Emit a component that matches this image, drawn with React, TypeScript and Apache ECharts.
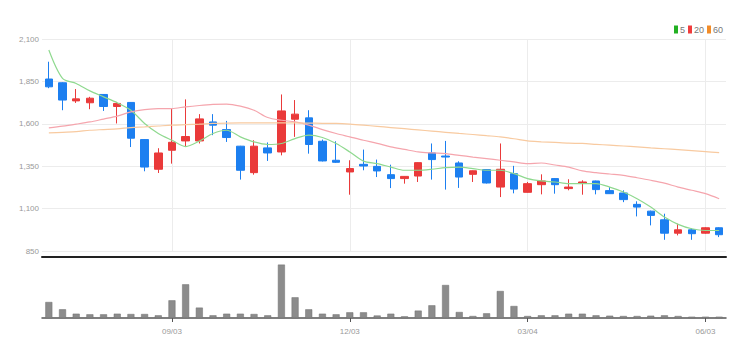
import React, { useEffect, useRef } from "react";
import * as echarts from "echarts";

const dates = [
  "07/02", "07/09", "07/16", "07/23", "07/30", "08/06", "08/13", "08/20", "08/27", "09/03",
  "09/10", "09/17", "09/24", "10/01", "10/08", "10/15", "10/22", "10/29", "11/05", "11/12",
  "11/19", "11/26", "12/03", "12/10", "12/17", "12/24", "12/31", "01/07", "01/14", "01/21",
  "01/28", "02/04", "02/11", "02/18", "02/25", "03/04", "03/11", "03/18", "03/25", "04/01",
  "04/08", "04/15", "04/22", "04/29", "05/06", "05/13", "05/20", "05/27", "06/03", "06/10",
];

const opens = [1864, 1842, 1735, 1724, 1773, 1702, 1726, 1507, 1332, 1444, 1499, 1499, 1611, 1566, 1468, 1312, 1458, 1434, 1627, 1635, 1497, 1385, 1316, 1361, 1349, 1300, 1277, 1292, 1428, 1410, 1369, 1302, 1330, 1227, 1306, 1196, 1241, 1277, 1218, 1249, 1263, 1206, 1192, 1125, 1085, 1034, 955, 975, 955, 987];
const closes = [1818, 1740, 1747, 1751, 1702, 1720, 1515, 1345, 1428, 1491, 1525, 1629, 1592, 1519, 1326, 1468, 1428, 1676, 1657, 1478, 1381, 1373, 1336, 1351, 1322, 1277, 1290, 1371, 1389, 1404, 1286, 1323, 1251, 1332, 1215, 1247, 1263, 1241, 1227, 1257, 1212, 1188, 1153, 1109, 1060, 955, 975, 952, 987, 946];
const lows = [1810, 1680, 1723, 1686, 1676, 1602, 1463, 1320, 1310, 1365, 1468, 1484, 1533, 1493, 1271, 1300, 1381, 1414, 1523, 1424, 1378, 1369, 1182, 1326, 1286, 1221, 1247, 1257, 1271, 1212, 1222, 1257, 1248, 1168, 1190, 1194, 1184, 1188, 1208, 1182, 1184, 1186, 1138, 1054, 1001, 916, 942, 916, 952, 932];
const highs = [1966, 1845, 1805, 1759, 1775, 1729, 1728, 1510, 1456, 1690, 1744, 1657, 1657, 1617, 1470, 1503, 1490, 1773, 1740, 1680, 1507, 1497, 1385, 1448, 1389, 1359, 1292, 1373, 1484, 1499, 1379, 1325, 1332, 1484, 1352, 1257, 1302, 1280, 1273, 1267, 1265, 1227, 1208, 1143, 1088, 1070, 1011, 985, 990, 990];

const ma5 = [2035, 1868, 1838, 1794, 1759, 1724, 1680, 1602, 1543, 1503, 1466, 1498, 1543, 1562, 1523, 1493, 1478, 1484, 1513, 1533, 1519, 1484, 1434, 1380, 1365, 1345, 1326, 1326, 1332, 1342, 1345, 1336, 1326, 1326, 1306, 1277, 1263, 1257, 1247, 1247, 1247, 1227, 1198, 1158, 1109, 1050, 1007, 981, 971, 971];
const ma20 = [1576, 1586, 1598, 1611, 1628, 1645, 1670, 1684, 1689, 1690, 1700, 1708, 1714, 1716, 1704, 1680, 1637, 1621, 1611, 1592, 1566, 1543, 1523, 1503, 1485, 1464, 1449, 1434, 1428, 1424, 1414, 1404, 1395, 1385, 1375, 1365, 1369, 1357, 1345, 1322, 1312, 1304, 1296, 1282, 1267, 1250, 1227, 1208, 1188, 1158];
const ma60 = [1546, 1550, 1554, 1562, 1566, 1570, 1578, 1582, 1587, 1592, 1595, 1598, 1602, 1604, 1605, 1605, 1605, 1605, 1605, 1604, 1603, 1602, 1598, 1592, 1585, 1578, 1571, 1564, 1557, 1550, 1543, 1537, 1530, 1523, 1512, 1499, 1494, 1490, 1486, 1484, 1479, 1474, 1469, 1464, 1458, 1453, 1448, 1442, 1436, 1430];

const volumes = [160, 87, 43, 37, 37, 43, 40, 40, 27, 177, 337, 104, 27, 43, 43, 40, 27, 534, 207, 87, 43, 37, 57, 57, 25, 43, 17, 74, 127, 330, 60, 20, 47, 270, 120, 20, 27, 27, 43, 43, 27, 23, 20, 20, 23, 27, 20, 13, 13, 13];

const maNames = ["5", "20", "60"];
const priceTicks = { min: 850, max: 2100, interval: 250 };

const FONT = "'Liberation Sans', Arial, sans-serif";
const UP = "#ea3a3a";
const DOWN = "#1c7ff0";

export default function App() {
  const ref = useRef<HTMLDivElement>(null);
  useEffect(() => {
    if (!ref.current) return;
    const chart = echarts.init(ref.current, null, { renderer: "svg" });
    const candleData = opens.map((o, i) => [o, closes[i], lows[i], highs[i]]);
    const labelInterval = (i: number) => i >= 9 && (i - 9) % 13 === 0;
    const fmt = (v: number) => String(v).replace(/\B(?=(\d{3})+(?!\d))/g, ",");
    chart.setOption({
      animation: false,
      backgroundColor: "#fff",
      textStyle: { fontFamily: FONT },
      legend: {
        right: 24,
        top: 20,
        itemWidth: 4,
        itemHeight: 8,
        itemGap: 3,
        icon: "rect",
        textStyle: { fontSize: 9, color: "#777", fontFamily: FONT, padding: [0, 0, 0, -3] },
        data: [
          { name: maNames[0], itemStyle: { color: "#22b022" } },
          { name: maNames[1], itemStyle: { color: "#f03c3c" } },
          { name: maNames[2], itemStyle: { color: "#f28c28" } },
        ],
      },
      grid: [
        { left: 42, right: 26, top: 39, height: 212 },
        { left: 42, right: 26, top: 262, height: 56 },
      ],
      xAxis: [
        {
          type: "category",
          gridIndex: 0,
          data: dates,
          boundaryGap: true,
          offset: 6,
          axisLine: { show: true, lineStyle: { color: "#222", width: 2 } },
          axisTick: { show: false },
          axisLabel: { show: false },
          splitLine: {
            show: true,
            interval: (i: number) => labelInterval(i),
            alignWithLabel: true,
            lineStyle: { color: "#ececec", width: 1 },
          },
        },
        {
          type: "category",
          gridIndex: 1,
          data: dates,
          boundaryGap: true,
          axisLine: { show: true, lineStyle: { color: "#555", width: 1.5 } },
          axisTick: {
            show: true,
            alignWithLabel: true,
            interval: (i: number) => labelInterval(i),
            length: 4,
            lineStyle: { color: "#555" },
          },
          axisLabel: {
            show: true,
            interval: (i: number) => labelInterval(i),
            fontSize: 8,
            color: "#999",
            fontFamily: FONT,
            margin: 9,
          },
          splitLine: { show: false },
        },
      ],
      yAxis: [
        {
          type: "value",
          gridIndex: 0,
          min: priceTicks.min,
          max: priceTicks.max,
          interval: priceTicks.interval,
          axisLine: { show: false },
          axisTick: { show: false },
          axisLabel: { fontSize: 8, color: "#999", fontFamily: FONT, margin: 3, formatter: fmt },
          splitLine: { show: true, lineStyle: { color: "#ececec" } },
        },
        {
          type: "value",
          gridIndex: 1,
          min: 0,
          max: 560,
          show: false,
          splitLine: { show: false },
        },
      ],
      series: [
        {
          type: "candlestick",
          xAxisIndex: 0,
          yAxisIndex: 0,
          data: candleData,
          barWidth: 8,
          itemStyle: { color: UP, color0: DOWN, borderColor: UP, borderColor0: DOWN, borderWidth: 1 },
        },
        {
          name: maNames[0],
          type: "line",
          data: ma5,
          smooth: 0.3,
          symbol: "none",
          itemStyle: { color: "#22b022" },
          lineStyle: { color: "#8fd98f", width: 1.2 },
        },
        {
          name: maNames[1],
          type: "line",
          data: ma20,
          smooth: 0.3,
          symbol: "none",
          itemStyle: { color: "#f03c3c" },
          lineStyle: { color: "#f5a5ad", width: 1.2 },
        },
        {
          name: maNames[2],
          type: "line",
          data: ma60,
          smooth: 0.3,
          symbol: "none",
          itemStyle: { color: "#f28c28" },
          lineStyle: { color: "#f8caa0", width: 1.2 },
        },
        {
          type: "bar",
          xAxisIndex: 1,
          yAxisIndex: 1,
          data: volumes,
          barWidth: 7,
          itemStyle: { color: "#8c8c8c", borderColor: "#6e6e6e", borderWidth: 0.5 },
        },
      ],
    });
    return () => chart.dispose();
  }, []);
  return (
    <div
      ref={ref}
      style={{ position: "absolute", left: 0, top: 0, width: 752, height: 357 }}
    />
  );
}
